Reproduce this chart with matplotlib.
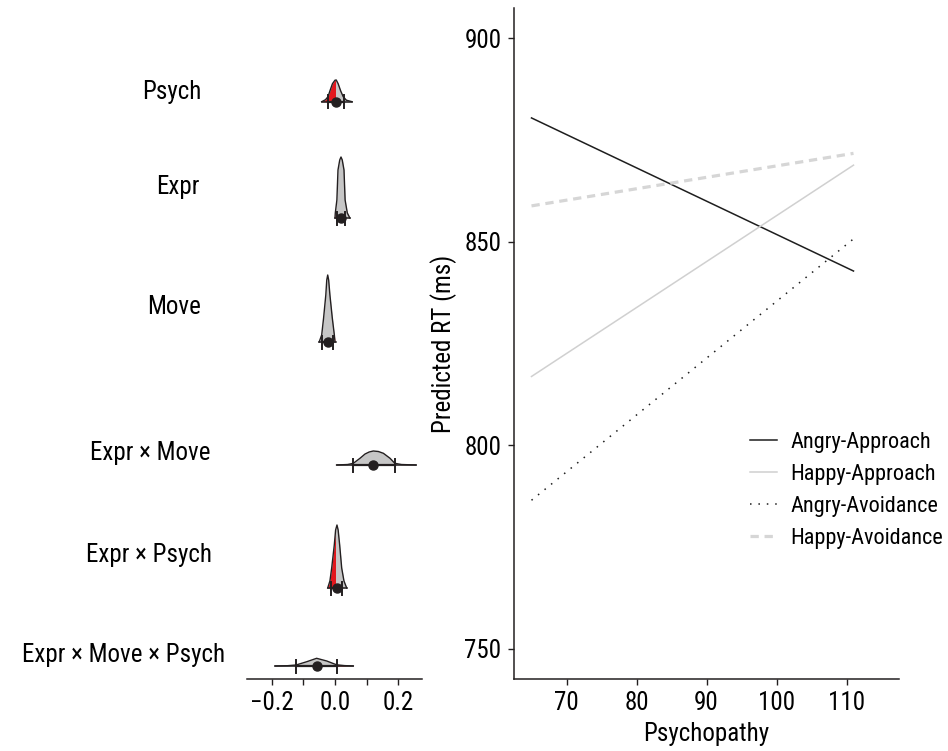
import matplotlib
matplotlib.use("Agg")
import matplotlib.pyplot as plt
from matplotlib.patches import Rectangle

plt.rcParams['font.family'] = ['Roboto Condensed', 'Roboto', 'DejaVu Sans']
plt.rcParams['font.size'] = 18

# left panel: posterior summaries per model term
terms = ["Psych", "Expr", "Move", "Expr \u00d7 Move", "Expr \u00d7 Psych", "Expr \u00d7 Move \u00d7 Psych"]
means = [0.003, 0.020, -0.023, 0.121, 0.006, -0.058]
ci_lo = [-0.022, 0.006, -0.040, 0.058, -0.012, -0.123]
ci_hi = [0.028, 0.033, -0.006, 0.189, 0.023, 0.005]
range_lo = [-0.042, 0.000, -0.050, 0.005, -0.023, -0.189]
range_hi = [0.055, 0.047, 0.004, 0.256, 0.037, 0.058]

# density curves (x, height)
dens_x = [
    [-0.042, -0.030, -0.022, -0.016, -0.008, 0.000, 0.004, 0.010, 0.018, 0.026, 0.036, 0.054],
    [0.000, 0.001, 0.006, 0.0095, 0.015, 0.019, 0.023, 0.0285, 0.032, 0.039, 0.047],
    [-0.050, -0.042, -0.036, -0.029, -0.026, -0.023, -0.020, -0.016, -0.0085, -0.002, 0.000],
    [0.005, 0.040, 0.058, 0.079, 0.095, 0.108, 0.121, 0.137, 0.153, 0.174, 0.189, 0.210, 0.256],
    [-0.023, -0.016, -0.0104, -0.0022, 0.002, 0.0063, 0.010, 0.0148, 0.0212, 0.0284, 0.037],
    [-0.189, -0.150, -0.123, -0.089, -0.058, -0.026, 0.005, 0.030, 0.058],
]
dens_h = [
    [0, 2, 5, 10.8, 18, 21.5, 21.7, 18, 10.8, 5, 1.5, 0],
    [0, 5, 18, 48, 58, 61, 58, 48, 18, 5, 0],
    [0, 7, 24, 47, 62, 67, 62, 47, 24, 7, 0],
    [0, 0.5, 1.7, 6.7, 11, 13, 14, 13.5, 11.7, 6.7, 1.7, 0.5, 0],
    [0, 7, 20, 43, 58, 63, 58, 43, 20, 7, 0],
    [0, 0.3, 1, 4.3, 7.7, 5, 1.2, 0.4, 0],
]

# layout of the rows (pixel units above the axis line)
row_base = [577.3, 461, 337, 214, 91, 13]
label_y = [587, 492, 372, 226, 124, 24]
label_right = [202, 200, 201, 211, 212, 225]

# right panel: predicted RT
psychopathy = [65, 111]
conditions = ["Angry-Approach", "Happy-Approach", "Angry-Avoidance", "Happy-Avoidance"]
rt_angry_approach = [880.4, 842.8]
rt_happy_approach = [816.9, 868.8]
rt_angry_avoid = [786.5, 850.7]
rt_happy_avoid = [858.8, 871.7]

W, H = 948, 751
fig = plt.figure(figsize=(W / 100, H / 100), dpi=100)
dark = "#231f20"

axL = fig.add_axes([247 / W, 72 / H, 174.7 / W, 679 / H])
axL.set_xlim(-0.278, 0.274)
axL.set_ylim(0, 679)
for i in range(len(terms)):
    b = row_base[i]
    xs = dens_x[i]
    ys = [b + h for h in dens_h[i]]
    axL.fill_between(xs, b, ys, color="#c6c6c6", lw=0, zorder=1)
    red = axL.fill_between(xs, b, ys, color="#e3171d", lw=0, zorder=2)
    if means[i] > 0:
        clip = Rectangle((-1, -10), 1, 1000, transform=axL.transData)
    else:
        clip = Rectangle((0, -10), 1, 1000, transform=axL.transData)
    red.set_clip_path(clip)
    axL.plot(xs, ys, color=dark, lw=1.0, zorder=3)
    axL.plot([range_lo[i], range_hi[i]], [b, b], color=dark, lw=1.1, zorder=4)
    axL.plot([ci_lo[i], ci_hi[i]], [b, b], color=dark, lw=1.6, zorder=4)
    for c in (ci_lo[i], ci_hi[i]):
        axL.plot([c, c], [b - 6.5, b + 6.5], color=dark, lw=1.4, zorder=4)
    axL.plot(means[i], b, "o", color=dark, ms=6.5, zorder=5)
    fig.text(label_right[i] / W, (72 + label_y[i]) / H, terms[i],
             ha="right", va="center")

for s in ["top", "right", "left"]:
    axL.spines[s].set_visible(False)
axL.spines["bottom"].set_color(dark)
axL.spines["bottom"].set_linewidth(1.1)
axL.set_yticks([])
axL.set_xticks([-0.2, 0.0, 0.2])
axL.set_xticklabels(["\u22120.2", "0.0", "0.2"])
axL.set_xticks([-0.1, 0.1], minor=True)
axL.tick_params(axis="x", which="both", length=4.5, width=1.0, color=dark, pad=4)

axR = fig.add_axes([514 / W, 72 / H, 385 / W, 671 / H])
axR.plot(psychopathy, rt_angry_approach, color="#1e1e1e", lw=1.1, label=conditions[0])
axR.plot(psychopathy, rt_happy_approach, color="#d0d0d0", lw=1.1, label=conditions[1])
axR.plot(psychopathy, rt_angry_avoid, color="#1e1e1e", lw=1.1, dashes=(1, 4.5), label=conditions[2])
axR.plot(psychopathy, rt_happy_avoid, color="#d6d6d6", lw=2.3, dashes=(2.6, 1.8), label=conditions[3])
axR.set_xlim(62.5, 117.5)
axR.set_ylim(742.6, 907.4)
axR.set_xticks([70, 80, 90, 100, 110])
axR.set_yticks([750, 800, 850, 900])
for s in ["top", "right"]:
    axR.spines[s].set_visible(False)
for s in ["left", "bottom"]:
    axR.spines[s].set_color(dark)
    axR.spines[s].set_linewidth(1.1)
axR.tick_params(length=4, width=1.0, color=dark, pad=5)
axR.set_xlabel("Psychopathy", labelpad=5)
axR.set_ylabel("Predicted RT (ms)", labelpad=5)
axR.legend(loc="center left", bbox_to_anchor=(750 / W, (H - 490.5) / H),
           bbox_transform=fig.transFigure, frameon=False, borderpad=0,
           borderaxespad=0, handlelength=1.2, handletextpad=0.6,
           labelspacing=0.5, fontsize=16)

fig.savefig("out.png", dpi=100)
